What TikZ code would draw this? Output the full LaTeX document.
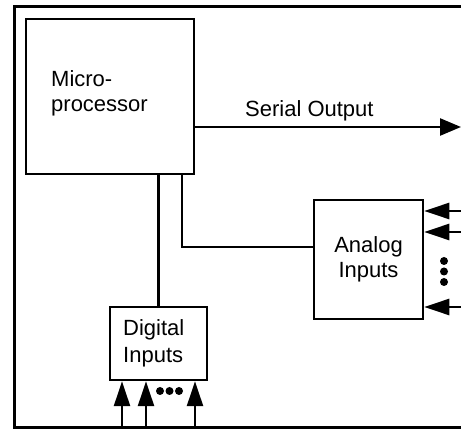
\documentclass[tikz,border=0pt]{standalone}
\usepackage{fontspec}
\setmainfont{Liberation Sans}
\usetikzlibrary{arrows.meta}
\begin{document}
\begin{tikzpicture}[x=1pt,y=-1pt,
  box/.style={draw, line width=2.5pt, inner sep=0pt, fill=white},
  lbl/.style={inner sep=0pt, font=\fontsize{22}{25}\selectfont},
  wire/.style={line width=2.5pt},
  inarrow/.style={line width=2.5pt, -{Triangle[length=25pt,width=16pt]}},
  dot/.style={circle, fill=black, inner sep=0pt, minimum size=8pt}]
\useasboundingbox (0,0) rectangle (461,430);
\clip (0,0) rectangle (461,430);
% frame (open to the right, cropped)
\coordinate (ftr) at (480,7);
\coordinate (ftl) at (14,7);
\coordinate (fbl) at (14,428);
\coordinate (fbr) at (480,428);
\draw[line width=3pt] (ftr) -- (ftl) -- (fbl) -- (fbr);
% boxes
\node[box, minimum width=168pt, minimum height=155pt] (mp) at (110,96.5) {};
\node[lbl, anchor=west, align=left] (mptext) at (51,93) {Micro-\\processor};
\node[box, minimum width=109pt, minimum height=119pt, align=center, lbl, draw, line width=2.5pt] (an) at (368.5,259.5) {Analog\\Inputs};
\node[box, minimum width=97pt, minimum height=73pt] (di) at (158.5,343.5) {};
\node[lbl, anchor=west, align=left, font=\fontsize{22}{27}\selectfont] (ditext) at (123,343) {Digital\\Inputs};
% serial output
\coordinate (so) at (461,127);
\draw[line width=2.5pt, -{Triangle[length=21pt,width=17pt]}] (mp.east |- so) -- (so);
\node[lbl, anchor=base west] (sotext) at (245,117) {Serial Output};
% connections
\draw[wire] (mp.south -| di.north) -- (di.north);
\coordinate (bend) at (182,247);
\draw[wire] (mp.south -| bend) -- (bend) -- (an.west |- bend);
% analog inputs
\coordinate (a1) at (470,211);
\coordinate (a2) at (470,232);
\coordinate (a3) at (470,307);
\draw[inarrow] (a1) -- (an.east |- a1);
\draw[inarrow] (a2) -- (an.east |- a2);
\draw[inarrow] (a3) -- (an.east |- a3);
\node[dot] (ad1) at (444,261) {};
\node[dot] (ad2) at (444,271.5) {};
\node[dot] (ad3) at (444,282) {};
% digital inputs
\coordinate (d1) at (122,428);
\coordinate (d2) at (146,428);
\coordinate (d3) at (195,428);
\draw[inarrow] (d1) -- (d1 |- di.south);
\draw[inarrow] (d2) -- (d2 |- di.south);
\draw[inarrow] (d3) -- (d3 |- di.south);
\node[dot] (dd1) at (160,391) {};
\node[dot] (dd2) at (169.5,391) {};
\node[dot] (dd3) at (179,391) {};
\end{tikzpicture}
\end{document}
